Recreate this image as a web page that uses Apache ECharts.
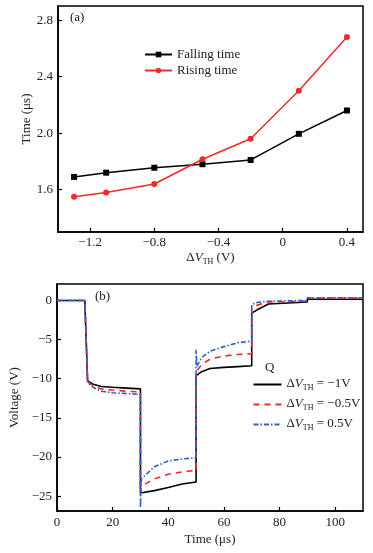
<!DOCTYPE html>
<html>
<head>
<meta charset="utf-8">
<script src="https://cdn.jsdelivr.net/npm/echarts@6/dist/echarts.min.js"></script>
<style>
html,body{margin:0;padding:0;background:#fff;}
#chart{width:373px;height:553px;}
</style>
</head>
<body>
<div id="chart"></div>
<script>
// ---- Panel (a) data ----
var deltaVth = [-1.3, -1.1, -0.8, -0.5, -0.2, 0.1, 0.4];
var fallingTime = [1.69, 1.72, 1.755, 1.78, 1.81, 1.995, 2.16];
var risingTime = [1.55, 1.58, 1.64, 1.815, 1.96, 2.30, 2.68];
var aXTicks = [-1.2, -0.8, -0.4, 0, 0.4];
var aYTicks = [1.6, 2.0, 2.4, 2.8];

// ---- Panel (b) data ----
var timeUs = [0, 10, 11, 13, 16, 20, 25, 30, 30, 30.3, 35, 40, 45, 50, 50, 50.3, 52, 55, 60, 65, 70, 70, 72, 76, 90, 90, 110];
var vNeg1 = [0, 0, -10.3, -10.7, -11.0, -11.1, -11.2, -11.3, -24.6, -24.6, -24.3, -23.9, -23.45, -23.2, -9.6, -9.5, -9.1, -8.7, -8.55, -8.45, -8.35, -1.6, -1.2, -0.45, -0.2, 0.15, 0.15];
var vNeg05 = [0, 0, -10.4, -10.9, -11.3, -11.45, -11.6, -11.7, -23.8, -23.7, -22.8, -22.2, -21.9, -21.7, -9.1, -9.0, -8.2, -7.5, -7.1, -6.9, -6.8, -1.0, -0.6, -0.2, -0.1, 0.3, 0.3];
var vPos05 = [0, 0, -10.5, -11.1, -11.6, -11.8, -11.9, -12.0, -26.5, -22.8, -21.25, -20.5, -20.25, -20.1, -6.3, -8.4, -7.3, -6.5, -5.9, -5.4, -5.2, -0.5, -0.25, -0.1, 0.0, 0.35, 0.35];
var bXTicks = [0, 20, 40, 60, 80, 100];
var bYTicks = [-25, -20, -15, -10, -5, 0];

var FONT = 'Liberation Serif';
var TXT = '#222';

function pairs(xs, ys) { return xs.map(function (x, i) { return [x, ys[i]]; }); }
function minus(v) { return String(v).replace('-', '\u2212'); }

var subRich = {
  d: {fontFamily: FONT, fontSize: 13, color: TXT, lineHeight: 15, verticalAlign: 'top'},
  v: {fontFamily: FONT, fontSize: 13, fontStyle: 'italic', color: TXT, lineHeight: 15, verticalAlign: 'top'},
  s: {fontFamily: FONT, fontSize: 8, color: TXT, lineHeight: 8, verticalAlign: 'bottom', padding: [8, 0, 0, 0]},
  n: {fontFamily: FONT, fontSize: 13, color: TXT, lineHeight: 15, verticalAlign: 'top'}
};

var axisLineStyle = {show: true, onZero: false, lineStyle: {color: '#000', width: 1.5}};
var tickStyle = {show: true, inside: true, length: 4, lineStyle: {color: '#000', width: 1.2}};

var chart = echarts.init(document.getElementById('chart'), null, {renderer: 'canvas'});

var option = {
  backgroundColor: '#fff',
  animation: false,
  grid: [
    {left: 58, top: 6, width: 305, height: 226, show: true, borderColor: '#000', borderWidth: 1.5, backgroundColor: 'transparent'},
    {left: 57, top: 284, width: 306, height: 227, show: true, borderColor: '#000', borderWidth: 1.5, backgroundColor: 'transparent'}
  ],
  xAxis: [
    {
      gridIndex: 0, type: 'value', min: -1.4, max: 0.5,
      axisLine: axisLineStyle, splitLine: {show: false},
      axisTick: Object.assign({customValues: aXTicks}, tickStyle),
      axisLabel: {customValues: aXTicks, formatter: function (v) { return minus(v); }, fontFamily: FONT, fontSize: 13, color: TXT, margin: 4},
      name: '{d|\u0394}{v|V}{s|TH}{n| (V)}', nameLocation: 'middle', nameGap: 19, nameMoveOverlap: false,
      nameTextStyle: {rich: subRich}
    },
    {
      gridIndex: 1, type: 'value', min: 0, max: 110,
      axisLine: axisLineStyle, splitLine: {show: false},
      axisTick: Object.assign({customValues: bXTicks}, tickStyle),
      axisLabel: {customValues: bXTicks, fontFamily: FONT, fontSize: 13, color: TXT, margin: 5},
      name: 'Time (\u03bcs)', nameLocation: 'middle', nameGap: 22, nameMoveOverlap: false,
      nameTextStyle: {fontFamily: FONT, fontSize: 13, color: TXT}
    }
  ],
  yAxis: [
    {
      gridIndex: 0, type: 'value', min: 1.3, max: 2.9,
      axisLine: axisLineStyle, splitLine: {show: false},
      axisTick: Object.assign({customValues: aYTicks}, tickStyle),
      axisLabel: {customValues: aYTicks, formatter: function (v) { return v.toFixed(1); }, fontFamily: FONT, fontSize: 13, color: TXT, margin: 5},
      name: 'Time (\u03bcs)', nameLocation: 'middle', nameGap: 25, nameMoveOverlap: false,
      nameTextStyle: {fontFamily: FONT, fontSize: 13, color: TXT}
    },
    {
      gridIndex: 1, type: 'value', min: -26.9, max: 2.1,
      axisLine: axisLineStyle, splitLine: {show: false},
      axisTick: Object.assign({customValues: bYTicks}, tickStyle),
      axisLabel: {customValues: bYTicks, formatter: function (v) { return minus(v); }, fontFamily: FONT, fontSize: 13, color: TXT, margin: 5},
      name: 'Voltage (V)', nameLocation: 'middle', nameGap: 36, nameMoveOverlap: false,
      nameTextStyle: {fontFamily: FONT, fontSize: 13, color: TXT}
    }
  ],
  legend: [
    {
      data: ['Falling time', 'Rising time'],
      orient: 'vertical', left: 144, top: 48, padding: 0, itemWidth: 27, itemHeight: 7, itemGap: 3,
      textStyle: {fontFamily: FONT, fontSize: 13, color: TXT},
      selectedMode: false
    },
    {
      data: ['m1', 'm05', 'p05'],
      orient: 'vertical', left: 252.5, top: 376, padding: 0, itemWidth: 28, itemHeight: 8, itemGap: 4,
      itemStyle: {opacity: 0},
      formatter: function (name) {
        var t = {m1: ' = \u22121V', m05: ' = \u22120.5V', p05: ' = 0.5V'}[name];
        return '{d|\u0394}{v|V}{s|TH}{n|' + t + '}';
      },
      textStyle: {rich: subRich},
      selectedMode: false
    }
  ],
  graphic: [
    {type: 'text', left: 70, top: 11, style: {text: '(a)', font: '13px "Liberation Serif"', fill: TXT}},
    {type: 'text', left: 95, top: 290, style: {text: '(b)', font: '13px "Liberation Serif"', fill: TXT}},
    {type: 'text', left: 265, top: 361, style: {text: 'Q', font: '13px "Liberation Serif"', fill: TXT}}
  ],
  series: [
    {
      name: 'Falling time', type: 'line', xAxisIndex: 0, yAxisIndex: 0,
      data: pairs(deltaVth, fallingTime),
      symbol: 'rect', symbolSize: 6,
      lineStyle: {color: '#000', width: 1.5}, itemStyle: {color: '#000'}
    },
    {
      name: 'Rising time', type: 'line', xAxisIndex: 0, yAxisIndex: 0,
      data: pairs(deltaVth, risingTime),
      symbol: 'circle', symbolSize: 6,
      lineStyle: {color: '#f02a2a', width: 1.5}, itemStyle: {color: '#f02a2a'}
    },
    {
      name: 'm1', type: 'line', xAxisIndex: 1, yAxisIndex: 1,
      data: pairs(timeUs, vNeg1), symbol: 'none',
      lineStyle: {color: '#000', width: 1.6}, itemStyle: {color: '#000'}
    },
    {
      name: 'm05', type: 'line', xAxisIndex: 1, yAxisIndex: 1,
      data: pairs(timeUs, vNeg05), symbol: 'none',
      lineStyle: {color: '#ee2b2b', width: 1.6, type: [6, 5]}, itemStyle: {color: '#ee2b2b'}
    },
    {
      name: 'p05', type: 'line', xAxisIndex: 1, yAxisIndex: 1,
      data: pairs(timeUs, vPos05), symbol: 'none',
      lineStyle: {color: '#3060c4', width: 1.6, type: [5, 2, 1.5, 2]}, itemStyle: {color: '#3060c4'}
    }
  ]
};
chart.setOption(option);
</script>
</body>
</html>
